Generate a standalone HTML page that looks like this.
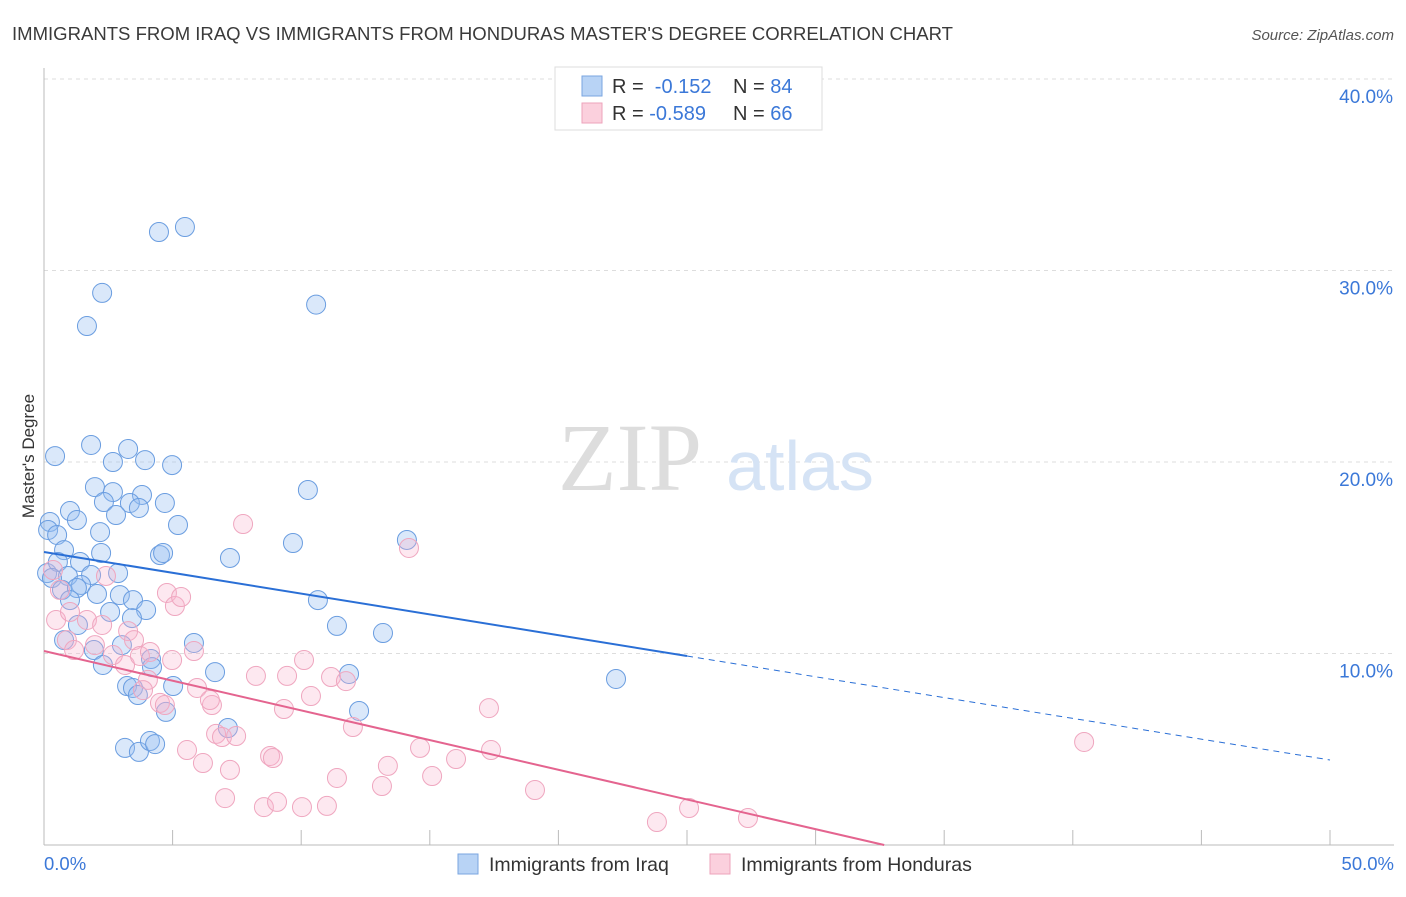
<!DOCTYPE html>
<html><head><meta charset="utf-8"><style>
body{margin:0;background:#fff;font-family:"Liberation Sans",sans-serif}
</style></head><body>
<svg width="1406" height="892" viewBox="0 0 1406 892" xmlns="http://www.w3.org/2000/svg">
<text x="12" y="40" font-size="18.5" fill="#3a3a3a" textLength="941" lengthAdjust="spacingAndGlyphs">IMMIGRANTS FROM IRAQ VS IMMIGRANTS FROM HONDURAS MASTER'S DEGREE CORRELATION CHART</text>
<text x="1394" y="40" font-size="15" fill="#555" font-style="italic" text-anchor="end">Source: ZipAtlas.com</text>
<g id="grid"></g>
<text x="630" y="490" font-size="96" fill="#ddd" font-family="Liberation Serif,serif" text-anchor="middle">ZIP</text>
<text x="800" y="490" font-size="70" fill="#d5e3f5" text-anchor="middle">atlas</text>
<g id="pts"></g>
<g id="lines"></g>
<text transform="translate(34,456) rotate(-90)" font-size="17" fill="#333" text-anchor="middle">Master's Degree</text>
<text x="44" y="870" font-size="18.5" fill="#3b78d8">0.0%</text>
<text x="1394" y="870" font-size="18.5" fill="#3b78d8" text-anchor="end">50.0%</text>
<g>
<rect x="555" y="67" width="267" height="63" fill="#fff" stroke="#ddd"/>
<rect x="582" y="76" width="20" height="20" fill="#b8d3f5" stroke="#7aa6e0"/>
<rect x="582" y="103" width="20" height="20" fill="#fbd0dd" stroke="#eea3bb"/>
<text x="612" y="93" font-size="20" fill="#333">R = <tspan fill="#3b78d8">&#160;-0.152</tspan><tspan x="733">N = </tspan><tspan fill="#3b78d8">84</tspan></text>
<text x="612" y="120" font-size="20" fill="#333">R = <tspan fill="#3b78d8">-0.589</tspan><tspan x="733">N = </tspan><tspan fill="#3b78d8">66</tspan></text>
</g>
<g>
<rect x="458" y="854" width="20" height="20" fill="#b8d3f5" stroke="#7aa6e0"/>
<text x="489" y="871" font-size="19.5" fill="#333">Immigrants from Iraq</text>
<rect x="710" y="854" width="20" height="20" fill="#fbd0dd" stroke="#eea3bb"/>
<text x="741" y="871" font-size="19.5" fill="#333">Immigrants from Honduras</text>
</g>
</svg>
<script>
const yTicks=[10,20,30,40];
const yTickLabels=["10.0%","20.0%","30.0%","40.0%"];
const xTicks=[0,5,10,15,20,25,30,35,40,45,50];
const iraqX=[4.47,5.48,2.26,1.67,10.58,0.43,1.83,3.27,2.68,3.93,4.98,1.98,2.68,3.81,10.26,1.01,2.33,3.34,4.70,3.69,2.80,1.28,0.23,0.16,0.51,2.18,5.21,9.68,14.11,0.78,2.22,4.51,4.63,7.23,0.12,0.54,1.40,0.93,1.83,2.88,0.31,1.44,0.70,1.28,2.06,2.95,1.01,3.46,2.57,3.97,3.42,10.65,11.39,13.18,1.32,0.78,1.94,5.83,3.03,4.16,2.29,4.20,6.65,11.86,22.24,3.23,3.46,5.02,3.65,4.74,12.25,7.15,3.15,3.69,4.12,4.32];
const iraqY=[32.01,32.27,28.83,27.10,28.22,20.31,20.89,20.68,20.00,20.10,19.84,18.69,18.43,18.28,18.54,17.44,17.91,17.86,17.86,17.60,17.23,16.97,16.87,16.45,16.19,16.34,16.71,15.77,15.93,15.40,15.25,15.14,15.25,14.99,14.20,14.78,14.78,14.05,14.10,14.20,13.94,13.58,13.32,13.42,13.11,13.05,12.79,12.79,12.17,12.27,11.85,12.79,11.44,11.07,11.49,10.70,10.18,10.55,10.44,9.71,9.40,9.29,9.03,8.93,8.67,8.30,8.20,8.30,7.83,6.95,7.00,6.11,5.07,4.86,5.43,5.27];
const hondX=[0.35,0.62,0.47,1.01,0.89,1.17,1.67,2.26,2.41,1.98,2.68,3.15,3.27,3.50,3.73,4.12,4.04,3.85,4.51,4.70,4.98,4.78,5.09,5.33,5.83,5.95,5.56,6.18,6.53,6.45,6.69,6.92,7.47,7.23,7.04,7.74,8.24,8.79,8.90,9.33,9.45,10.11,10.38,8.55,9.06,10.03,11.00,11.16,11.74,12.01,11.39,13.14,13.37,14.19,14.62,15.09,16.02,17.30,17.38,19.09,23.83,25.08,27.37,40.44];
const hondY=[14.36,13.32,11.75,12.17,10.70,10.18,11.75,11.49,14.05,10.44,9.92,9.40,11.17,10.70,9.87,10.08,8.62,8.09,7.42,7.31,9.66,13.16,12.48,12.95,10.13,8.20,4.96,4.28,7.31,7.57,5.80,5.64,5.69,3.92,2.45,16.76,8.83,4.65,4.54,7.10,8.83,9.66,7.78,1.98,2.25,1.98,2.04,8.77,8.56,6.16,3.50,3.08,4.13,15.51,5.07,3.60,4.49,7.15,4.96,2.87,1.20,1.93,1.41,5.38];
const iraqTrend=[15.3,-0.2172];
const hondTrend=[10.13,-0.3101];
const NS="http://www.w3.org/2000/svg";
const sx=v=>44+v*25.72, sy=v=>845-v*19.15;
function mk(tag,attrs,parent){const e=document.createElementNS(NS,tag);for(const k in attrs)e.setAttribute(k,attrs[k]);parent.appendChild(e);return e;}
const grid=document.getElementById('grid');
yTicks.forEach((t,i)=>{
 const l=mk('line',{x1:44,x2:1394,y1:sy(t),y2:sy(t),stroke:'#ddd','stroke-dasharray':'4,4'},grid);
 
 
 const tx=mk('text',{x:1393,y:sy(t)+24,'font-size':19,fill:'#3b78d8','text-anchor':'end'},grid);
 tx.textContent=yTickLabels[i];
 
 
});
const ax=mk('line',{x1:44,x2:44,y1:68,y2:845,stroke:'#bbb'},grid);


const bx=mk('line',{x1:44,x2:1394,y1:845,y2:845,stroke:'#bbb'},grid);


xTicks.forEach(t=>{
 const l=mk('line',{x1:sx(t),x2:sx(t),y1:830,y2:845,stroke:'#bbb'},grid);
 
 
});
const pts=document.getElementById('pts');
iraqX.forEach((x,i)=>{
 const c=mk('circle',{cx:sx(x),cy:sy(iraqY[i]),r:9.5,fill:'rgba(150,190,240,0.35)',stroke:'#6a9de0','stroke-width':1},pts);
 
 
});
hondX.forEach((x,i)=>{
 const c=mk('circle',{cx:sx(x),cy:sy(hondY[i]),r:9.5,fill:'rgba(248,180,205,0.3)',stroke:'#efa6bf','stroke-width':1},pts);
 
 
});
const lines=document.getElementById('lines');
let a=mk('line',{x1:sx(0),y1:sy(iraqTrend[0]),x2:sx(25),y2:sy(iraqTrend[0]+25*iraqTrend[1]),stroke:'#2a6fd6','stroke-width':2},lines);


a=mk('line',{x1:sx(25),y1:sy(iraqTrend[0]+25*iraqTrend[1]),x2:sx(50),y2:sy(iraqTrend[0]+50*iraqTrend[1]),stroke:'#2a6fd6','stroke-width':1,'stroke-dasharray':'6,5'},lines);


const hEnd=-hondTrend[0]/hondTrend[1];
a=mk('line',{x1:sx(0),y1:sy(hondTrend[0]),x2:sx(hEnd),y2:sy(0),stroke:'#e4648f','stroke-width':2},lines);


</script>
</body></html>
